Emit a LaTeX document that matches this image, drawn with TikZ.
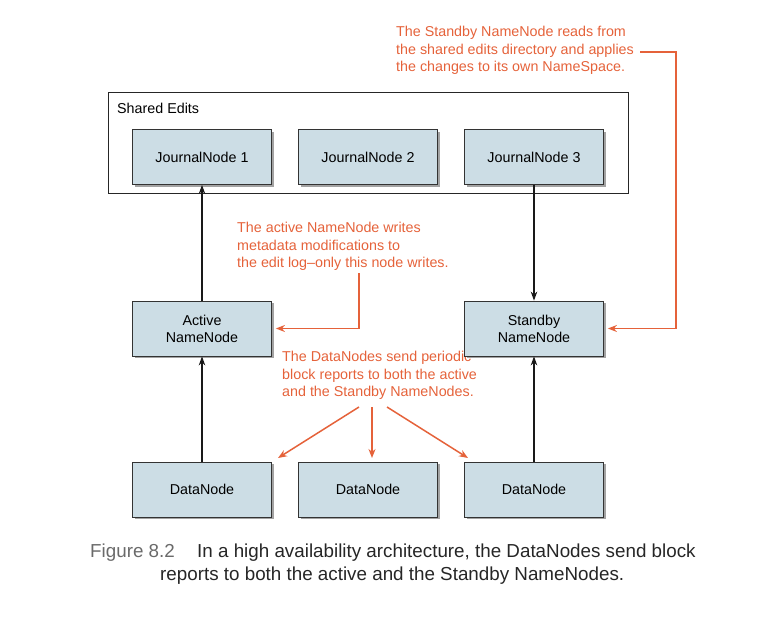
\documentclass[tikz,border=0pt]{standalone}
\usepackage{fontspec}
\setmainfont{Liberation Sans}
\usetikzlibrary{arrows.meta,shadows}
\definecolor{boxfill}{HTML}{CCDDE5}
\definecolor{note}{HTML}{E5623A}
\definecolor{figgray}{HTML}{6A6A6A}
\tikzset{
  hbox/.style={draw=black!80, line width=0.8pt, fill=boxfill, minimum width=139pt, minimum height=55pt, inner sep=0pt, align=center,
    font=\fontsize{14.3}{17}\selectfont,
    drop shadow={shadow xshift=2pt, shadow yshift=-2pt, fill=black!45, opacity=0.8}},
  conn/.style={draw=black!90, line width=1.3pt, -{Stealth[length=9pt,width=6.5pt]}},
  noteline/.style={draw=note, line width=1.5pt, -{Stealth[length=9pt,width=7pt]}},
  notetext/.style={text=note, anchor=north west, inner sep=0pt, align=left, font=\fontsize{14.3}{17.5}\selectfont},
  captext/.style={anchor=base west, inner sep=0pt, font=\fontsize{18.8}{22}\selectfont},
}
\begin{document}
\begin{tikzpicture}[x=1pt,y=-1pt]
\useasboundingbox (0,0) rectangle (758,618);
% Shared edits container
\node[draw=black!85, line width=0.8pt, fill=white, minimum width=520pt, minimum height=101pt, inner sep=0pt] (shared) at (368,142.5) {};
\node[anchor=north west, inner sep=0pt, font=\fontsize{14.3}{17}\selectfont] (sharedlbl) at (117,103) {Shared Edits};
% Journal nodes
\node[hbox] (jn1) at (202,157) {JournalNode 1};
\node[hbox] (jn2) at (368,157) {JournalNode 2};
\node[hbox] (jn3) at (534,157) {JournalNode 3};
% lower note text drawn before boxes so the box covers its end
\node[notetext] (n3) at (282,351) {The DataNodes send periodic\\block reports to both the active\\and the Standby NameNodes.};
% Name nodes
\node[hbox] (active) at (202,328.5) {Active\\NameNode};
\node[hbox] (standby) at (534,328.5) {Standby\\NameNode};
% Data nodes
\node[hbox] (dn1) at (202,489.5) {DataNode};
\node[hbox] (dn2) at (368,489.5) {DataNode};
\node[hbox] (dn3) at (534,489.5) {DataNode};
% black connectors
\draw[conn] (active.north) -- (jn1.south);
\draw[conn] (jn3.south) -- (standby.north);
\draw[conn] (dn1.north) -- (active.south);
\draw[conn] (dn3.north) -- (standby.south);
% notes
\node[notetext] (n1) at (396,26) {The Standby NameNode reads from\\the shared edits directory and applies\\the changes to its own NameSpace.};
\node[notetext] (n2) at (237,222) {The active NameNode writes\\metadata modifications to\\the edit log--only this node writes.};
\coordinate (c1) at (640,52);
\coordinate (c2) at (359,273);
\draw[noteline] (c1) -- (676,52) |- ([xshift=4pt]standby.east);
\draw[noteline] (c2) |- ([xshift=4pt]active.east);
\coordinate (d1) at (359,407);
\coordinate (d2) at (372,407);
\coordinate (d3) at (387,407);
\coordinate (e1) at (278,458);
\coordinate (e2) at (372,458);
\coordinate (e3) at (468,458);
\draw[noteline] (d1) -- (e1);
\draw[noteline] (d2) -- (e2);
\draw[noteline] (d3) -- (e3);
% caption
\node[captext, text=figgray] (figlbl) at (90,557) {Figure 8.2};
\node[captext, text=black!85] (cap1) at (197,557) {In a high availability architecture, the DataNodes send block};
\node[captext, text=black!85] (cap2) at (160,580) {reports to both the active and the Standby NameNodes.};
\end{tikzpicture}
\end{document}
